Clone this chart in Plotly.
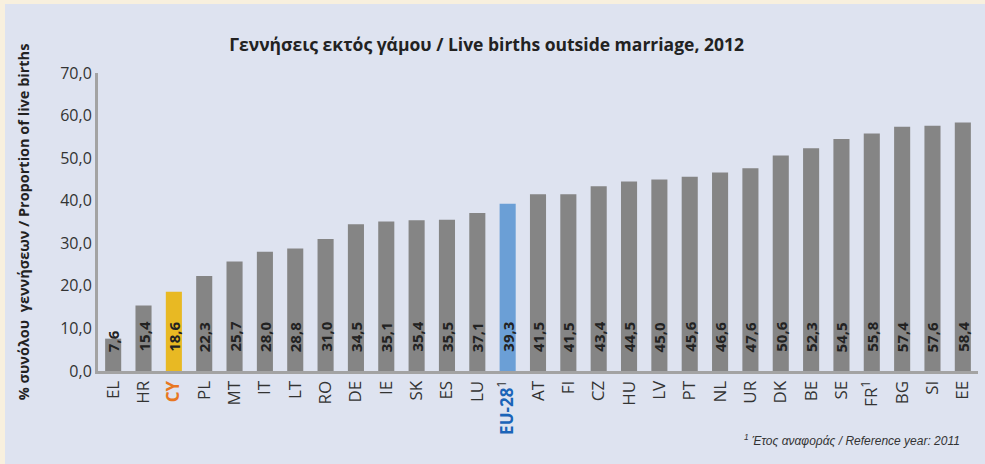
import plotly.graph_objects as go

# data
countries = ["EL", "HR", "CY", "PL", "MT", "IT", "LT", "RO", "DE", "IE", "SK", "ES", "LU",
             "EU-28", "AT", "FI", "CZ", "HU", "LV", "PT", "NL", "UR", "DK", "BE", "SE",
             "FR", "BG", "SI", "EE"]
values = [7.6, 15.4, 18.6, 22.3, 25.7, 28.0, 28.8, 31.0, 34.5, 35.1, 35.4, 35.5, 37.1,
          39.3, 41.5, 41.5, 43.4, 44.5, 45.0, 45.6, 46.6, 47.6, 50.6, 52.3, 54.5,
          55.8, 57.4, 57.6, 58.4]
y_ticks = [0, 10, 20, 30, 40, 50, 60, 70]

GREY = "#858585"
CY_BAR = "#e8b923"
EU_BAR = "#6b9fd6"
FONT = "Open Sans"


def bar_color(c):
    if c == "CY":
        return CY_BAR
    if c == "EU-28":
        return EU_BAR
    return GREY


def tick_label(c):
    if c == "CY":
        return '<span style="color:#e87722"><b>CY</b></span>'
    if c == "EU-28":
        return '<span style="color:#1b64b8"><b>EU-28</b></span><sup>1</sup>'
    if c == "FR":
        return "FR<sup>1</sup>"
    return c


def fmt(v):
    return f"{v:.1f}".replace(".", ",")


fig = go.Figure(go.Bar(
    x=countries, y=values,
    marker=dict(color=[bar_color(c) for c in countries], line=dict(width=0)),
    hoverinfo="x+y",
))

for c, v in zip(countries, values):
    fig.add_annotation(
        x=c, y=0, text=f"<b>{fmt(v)}</b>", textangle=-90, showarrow=False,
        xanchor="center", yanchor="bottom", yshift=17,
        font=dict(family=FONT, size=15, color="#222222"),
    )

# light panel behind everything (cream border shows on top/left edge)
fig.add_shape(type="rect", xref="paper", yref="paper", layer="below",
              x0=(5 - 98) / 880, x1=1.02, y0=-0.32, y1=(371 - 4) / 298,
              fillcolor="#dee3f0", line=dict(width=0))

fig.add_annotation(
    xref="paper", yref="paper", x=(962 - 98) / 880, y=(371 - 440) / 298,
    xanchor="right", yanchor="middle", showarrow=False,
    text="<i><sup>1</sup> Έτος αναφοράς / Reference year: 2011</i>",
    font=dict(family="Liberation Sans", size=12, color="#333333"),
)

fig.update_layout(
    width=985, height=464,
    margin=dict(l=98, r=7, t=73, b=93),
    paper_bgcolor="#f8f0de", plot_bgcolor="rgba(0,0,0,0)",
    font=dict(family=FONT, color="#333333"),
    title=dict(text="<b>Γεννήσεις εκτός γάμου / Live births outside marriage, 2012</b>",
               x=0.494, xref="container", xanchor="center",
               y=1 - 45 / 464, yref="container", yanchor="middle",
               font=dict(family=FONT, size=17.5, color="#222222")),
    bargap=0.47,
    showlegend=False,
    xaxis=dict(tickmode="array", tickvals=countries, ticktext=[tick_label(c) for c in countries],
               tickangle=-90, tickfont=dict(size=17, color="#333333"),
               showline=True, linecolor="#a3a3a3", linewidth=3, ticks="",
               showgrid=False, range=[-0.5, len(countries) - 0.5]),
    yaxis=dict(range=[0, 70], tickvals=y_ticks, ticktext=[fmt(t) for t in y_ticks],
               tickfont=dict(size=16, color="#333333"),
               showline=True, linecolor="#a3a3a3", linewidth=3, ticks="",
               showgrid=False, zeroline=False,
               title=dict(text="<b>% συνόλου  γεννήσεων / Proportion of live births</b>",
                          font=dict(size=14.5, color="#222222"), standoff=28)),
)

fig.write_html("out.html", config={"displayModeBar": False},
               post_script="document.body.style.margin='0';")
